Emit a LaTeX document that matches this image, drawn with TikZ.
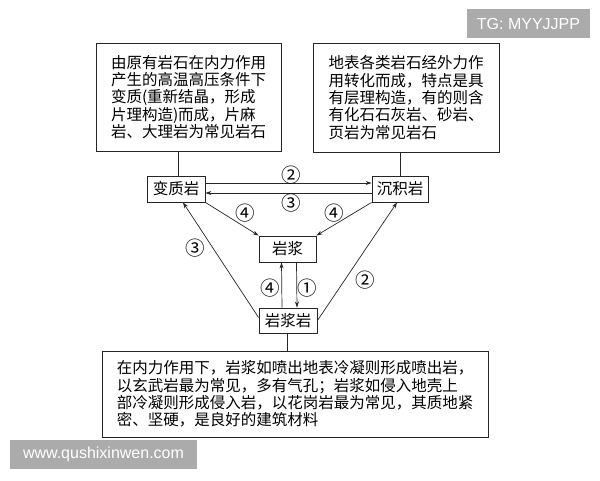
\documentclass[tikz,border=0pt]{standalone}
\usepackage{fontspec}
\newfontfamily\cjk{Noto Sans CJK SC}
\newfontfamily\wmfont{Liberation Sans}
\usetikzlibrary{arrows.meta}
\begin{document}
\begin{tikzpicture}[x=1pt,y=-1pt,
  box/.style={draw=black!85,line width=0.9pt,inner sep=0pt,align=left,
    font=\cjk\fontsize{15.5}{17.4}\selectfont},
  rock/.style={draw=black!85,line width=0.9pt,inner sep=0pt,
    font=\cjk\fontsize{15.5}{17}\selectfont},
  conn/.style={line width=0.7pt,draw=black!85},
  arr/.style={conn,-{Stealth[length=6pt,width=4pt]}},
  num/.style={inner sep=0pt,font=\cjk\fontsize{19.5}{19.5}\selectfont},
  wm/.style={fill=black!33,text=white,inner sep=0pt,font=\wmfont\fontsize{16}{16}\selectfont}]
\fill[white] (0,0) rectangle (600,480);
\useasboundingbox (0,0) rectangle (600,480);
% boxes
\node[box,minimum width=185,minimum height=108] (tl) at (188.5,97)
 {由原有岩石在内力作用\\产生的高温高压条件下\\变质(重新结晶，形成\\片理构造)而成，片麻\\岩、大理岩为常见岩石};
\node[box,minimum width=186,minimum height=109] (tr) at (406,97.5)
 {地表各类岩石经外力作\\用转化而成，特点是具\\有层理构造，有的则含\\有化石石灰岩、砂岩、\\页岩为常见岩石};
\node[box,minimum width=386,minimum height=86] (bt) at (295,394)
 {在内力作用下，岩浆如喷出地表冷凝则形成喷出岩，\\以玄武岩最为常见，多有气孔；岩浆如侵入地壳上\\部冷凝则形成侵入岩，以花岗岩最为常见，其质地紧\\密、坚硬，是良好的建筑材料};
\node[rock,minimum width=58,minimum height=26] (bz) at (176,189) {变质岩};
\node[rock,minimum width=56,minimum height=26] (cj) at (400,189) {沉积岩};
\node[rock,minimum width=57,minimum height=26] (ym) at (287.5,249) {岩浆};
\node[rock,minimum width=58,minimum height=25] (ys) at (288,320.5) {岩浆岩};
% plain connectors
\draw[conn] ([xshift=2pt]bz.north) -- ([xshift=2pt]bz.north |- tl.south);
\draw[conn] (cj.north) -- (cj.north |- tr.south);
\draw[conn] ([xshift=-1pt]ys.south) -- ([xshift=-1pt]ys.south |- bt.north);
% arrows
\draw[arr] ([yshift=6pt]bz.east) -- ([yshift=6pt]cj.west);
\draw[arr] ([yshift=-4pt]cj.west) -- ([yshift=-4pt]bz.west -| bz.east);
\draw[arr] (bz.south east) -- (ym.north west);
\draw[arr] (cj.south west) -- (ym.north east);
\draw[arr] ([yshift=3pt]ys.west) -- ([xshift=7pt]bz.south);
\draw[arr] (ys.east) -- ([xshift=-3pt]cj.south);
\draw[arr] ([xshift=-6pt]ys.north) -- ([xshift=-6pt]ym.south);
\draw[arr] ([xshift=9pt]ym.south) -- ([xshift=9pt]ys.north);
% labels
\node[num] (n1) at (291,175) {②};
\node[num] (n2) at (291,203) {③};
\node[num] (n3) at (245,213) {④};
\node[num] (n4) at (334,213) {④};
\node[num] (n5) at (195,248) {③};
\node[num] (n6) at (365,280) {②};
\node[num] (n7) at (270,288) {④};
\node[num] (n8) at (307,288) {①};
% watermarks
\node[wm,minimum width=123,minimum height=29] (w1) at (528.5,23.5) {TG: MYYJJPP};
\node[wm,minimum width=187,minimum height=29] (w2) at (103.5,454.5) {www.qushixinwen.com};
\end{tikzpicture}
\end{document}
